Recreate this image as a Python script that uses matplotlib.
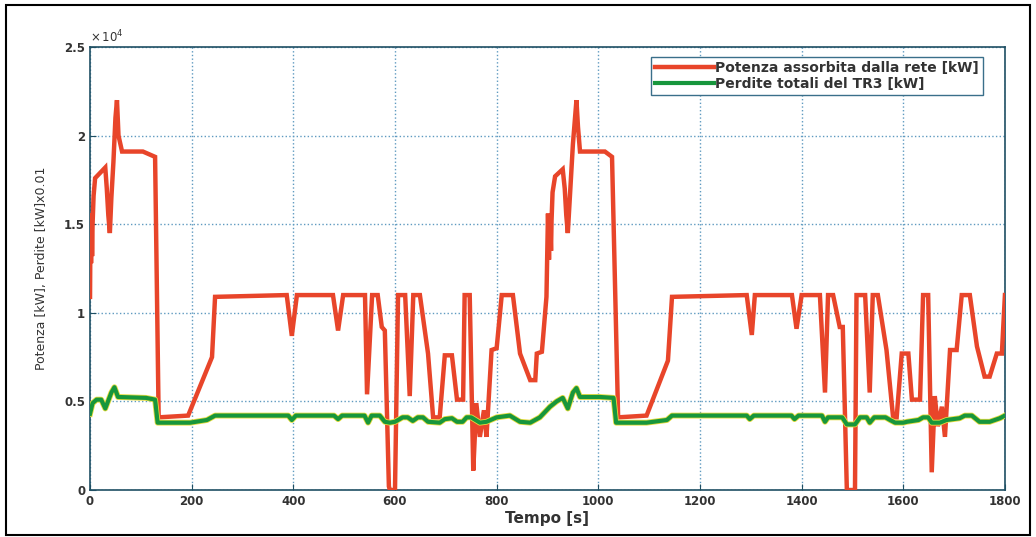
import matplotlib
matplotlib.use("Agg")
import matplotlib.pyplot as plt
from matplotlib.patches import Rectangle

# Potenza assorbita dalla rete [kW]
t_rete = [0, 1, 2, 3, 4, 5, 7, 10, 20, 30, 33, 36, 39, 42, 46, 50, 53, 56, 63,
          104, 128, 135, 193, 240, 246, 387, 397, 407, 478, 488, 498, 541, 545,
          555, 566, 574, 580, 588, 590, 600, 606, 620, 629, 636, 649, 665, 675,
          688, 698, 712, 722, 734, 737, 747, 754, 760, 767, 775, 780, 790, 800,
          810, 832, 846, 866, 876, 879, 889, 898, 901, 903, 905, 907, 908, 910,
          915, 930, 934, 937, 940, 944, 950, 957, 960, 964, 1013, 1027, 1039,
          1095, 1137, 1145, 1292, 1302, 1308, 1381, 1390, 1400, 1436, 1446,
          1452, 1462, 1475, 1481, 1489, 1505, 1508, 1525, 1534, 1540, 1550,
          1567, 1580, 1587, 1597, 1610, 1617, 1633, 1639, 1649, 1656, 1662,
          1668, 1676, 1682, 1692, 1705, 1715, 1731, 1745, 1760, 1770, 1784,
          1794, 1800]
p_rete = [10900, 15500, 12800, 15600, 13200, 15000, 16600, 17600, 17900, 18200,
          17000, 15500, 14500, 16500, 18500, 21000, 22000, 20000, 19100,
          19100, 18800, 4100, 4200, 7500, 10900, 11000, 8700, 11000, 11000,
          9000, 11000, 11000, 5400, 11000, 11000, 9200, 9000, 200, 0, 0, 11000,
          11000, 5300, 11000, 11000, 7700, 4100, 4100, 7600, 7600, 5100, 5100,
          11000, 11000, 1100, 4900, 3000, 4500, 3000, 7900, 8000, 11000, 11000,
          7700, 6200, 6200, 7700, 7800, 10900, 15600, 13000, 15500, 13500,
          15200, 16800, 17700, 18100, 17000, 15500, 14500, 16500, 19500, 22000,
          20500, 19100, 19100, 18800, 4100, 4200, 7300, 10900, 11000, 8750,
          11000, 11000, 9100, 11000, 11000, 5500, 11000, 11000, 9200, 9200, 0,
          0, 11000, 11000, 5500, 11000, 11000, 7900, 4100, 4100, 7700, 7700,
          5100, 5100, 11000, 11000, 1000, 5300, 3600, 4700, 3000, 7900, 7900,
          11000, 11000, 8100, 6400, 6400, 7700, 7700, 11000]

# Perdite totali del TR3 [kW] (x0.01)
t_perdite = [0, 5, 13, 22, 30, 42, 48, 55, 110, 128, 133, 197, 230, 246, 390,
             397, 405, 480, 488, 496, 540, 547, 554, 570, 580, 590, 600, 615,
             625, 635, 645, 655, 665, 688, 698, 712, 722, 733, 741, 750, 767,
             780, 800, 826, 846, 866, 885, 905, 918, 930, 940, 950, 957, 964,
             1003, 1030, 1035, 1095, 1135, 1145, 1292, 1298, 1306, 1380, 1386,
             1394, 1440, 1446, 1452, 1480, 1489, 1505, 1515, 1528, 1534, 1543,
             1565, 1574, 1584, 1600, 1607, 1630, 1639, 1649, 1656, 1672, 1685,
             1711, 1721, 1735, 1750, 1770, 1790, 1800]
p_perdite = [4300, 4900, 5100, 5100, 4600, 5500, 5800, 5250, 5200, 5100, 3800,
             3800, 3950, 4200, 4200, 3950, 4200, 4200, 4000, 4200, 4200, 3800,
             4200, 4200, 3850, 3800, 3850, 4100, 4100, 3900, 4100, 4100, 3850,
             3800, 4000, 4050, 3850, 3850, 4100, 4100, 3800, 3850, 4100, 4200,
             3850, 3800, 4100, 4700, 5000, 5200, 4600, 5500, 5750, 5250, 5250,
             5200, 3800, 3800, 3950, 4200, 4200, 4000, 4200, 4200, 4000, 4200,
             4200, 3850, 4100, 4100, 3700, 3700, 4100, 4100, 3800, 4100, 4100,
             3950, 3800, 3800, 3850, 3950, 4100, 4100, 3800, 3800, 3950, 4050,
             4200, 4200, 3850, 3850, 4050, 4200]

x_ticks = [0, 200, 400, 600, 800, 1000, 1200, 1400, 1600, 1800]
y_ticks = [0, 5000, 10000, 15000, 20000, 25000]
y_tick_labels = ['0', '0.5', '1', '1.5', '2', '2.5']

red = '#e8452a'
green = '#17963c'
frame = '#1f4f63'

fig = plt.figure(figsize=(10.36, 5.37), dpi=100)
ax = fig.add_axes([0.0869, 0.0875, 0.8831, 0.825])

ax.plot(t_rete, p_rete, color=red, lw=3.2, solid_joinstyle='miter',
        label='Potenza assorbita dalla rete [kW]', zorder=3)
# thin yellow rim under the green trace
ax.plot(t_perdite, p_perdite, color='#e6dc3c', lw=4.2, zorder=3.5)
ax.plot(t_perdite, p_perdite, color=green, lw=3.0,
        label='Perdite totali del TR3 [kW]', zorder=4)

ax.set_xlim(0, 1800)
ax.set_ylim(0, 25000)
ax.set_xticks(x_ticks)
ax.set_yticks(y_ticks)
ax.set_yticklabels(y_tick_labels)
ax.tick_params(direction='in', length=4, color=frame, labelsize=8.5,
               labelcolor='#333333')
for lab in ax.get_xticklabels() + ax.get_yticklabels():
    lab.set_fontweight('bold')

ax.grid(True, linestyle=':', color='#5f9ac0', lw=1.0)
for s in ax.spines.values():
    s.set_color(frame)
    s.set_linewidth(1.2)

ax.text(0.0, 1.004, r'$\times\,10^{4}$', transform=ax.transAxes,
        fontsize=8.5, color='#333333', ha='left', va='bottom')

ax.set_xlabel('Tempo [s]', fontsize=11, fontweight='bold', color='#333333',
              labelpad=2)
ax.set_ylabel('Potenza [kW], Perdite [kW]x0.01', fontsize=9, color='#333333',
              labelpad=12)

leg = ax.legend(loc='upper right', bbox_to_anchor=(0.976, 0.977),
                borderaxespad=0, fontsize=10, handlelength=4.2,
                handletextpad=0.1, labelspacing=0.1, borderpad=0.3,
                fancybox=False, framealpha=1)
leg.get_frame().set_edgecolor('#3a6f8a')
leg.get_frame().set_linewidth(1.0)
for txt in leg.get_texts():
    txt.set_fontweight('bold')
    txt.set_color('#333333')

# outer border of the figure
fig.patches.append(Rectangle((0.006, 0.004), 0.988, 0.986, fill=False,
                             edgecolor='black', lw=1.5,
                             transform=fig.transFigure, figure=fig))

fig.savefig('out.png', dpi=100)
